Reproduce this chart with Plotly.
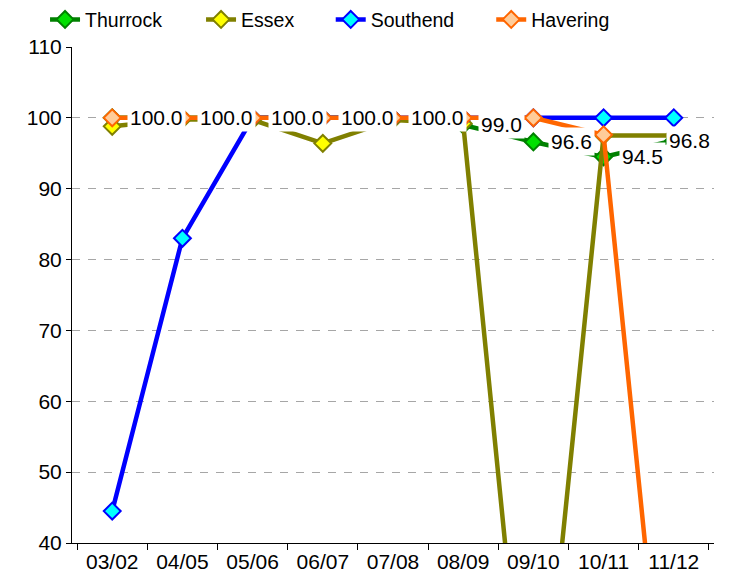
import plotly.graph_objects as go

categories = ["03/02", "04/05", "05/06", "06/07", "07/08", "08/09", "09/10", "10/11", "11/12"]
thurrock = [100.0, 100.0, 100.0, 100.0, 100.0, 99.0, 96.6, 94.5, 96.8]
essex = [98.8, 99.8, 99.7, 96.4, 99.7, 99.2, 0.0, 97.5, 97.5]
southend = [44.5, 83.0, 100.0, 100.0, 100.0, 100.0, 100.0, 100.0, 100.0]
havering = [100.0, 100.0, 100.0, 100.0, 100.0, 100.0, 100.0, 97.6, 0.0]
y_ticks = [40, 50, 60, 70, 80, 90, 100, 110]

FONT = "Liberation Sans, Arial, sans-serif"
FS = 21

series = [
    ("Thurrock", thurrock, "#008000", "#00E000"),
    ("Essex", essex, "#808000", "#FFFF00"),
    ("Southend", southend, "#0000FF", "#00FFFF"),
    ("Havering", havering, "#FF6600", "#FFCC99"),
]
legend_ids = ["legend", "legend2", "legend3", "legend4"]
legend_x = [-0.042, 0.201, 0.403, 0.653]

fig = go.Figure()
for (name, vals, lc, fc), lid in zip(series, legend_ids):
    fig.add_trace(go.Scatter(
        x=categories, y=vals, name=name, mode="lines+markers",
        line=dict(color=lc, width=4.5),
        marker=dict(symbol="diamond", size=13, color=fc, line=dict(color=lc, width=2)),
        cliponaxis=True, legend=lid,
    ))

annotations = []
for i, (c, v) in enumerate(zip(categories, thurrock)):
    shift = 15 if i < len(categories) - 1 else -8
    annotations.append(dict(
        x=c, y=v, xref="x", yref="y", text=f"{v:.1f}", showarrow=False,
        xanchor="left", yanchor="middle", xshift=shift,
        bgcolor="white", borderpad=2,
        font=dict(family=FONT, size=FS, color="black"),
    ))

legend_layout = {}
for lid, lx in zip(legend_ids, legend_x):
    legend_layout[lid] = dict(
        orientation="h", xref="paper", yref="paper",
        x=lx, y=1.055, xanchor="left", yanchor="middle",
        font=dict(family=FONT, size=19.5, color="black"),
        bgcolor="rgba(0,0,0,0)", itemclick=False, itemdoubleclick=False,
    )

fig.update_layout(
    width=723, height=578,
    margin=dict(l=64, r=17, t=39, b=43, autoexpand=False),
    paper_bgcolor="white", plot_bgcolor="white",
    font=dict(family=FONT, size=FS, color="black"),
    showlegend=True,
    annotations=annotations,
    **legend_layout,
)
fig.update_xaxes(
    type="category", showline=True, linecolor="black", linewidth=1,
    ticks="outside", tickson="boundaries", ticklen=6, tickcolor="black",
    showgrid=False, zeroline=False, automargin=False,
    tickfont=dict(family=FONT, size=FS, color="black"),
)
fig.update_yaxes(
    range=[40, 110], tickvals=y_ticks, showline=True, linecolor="black", linewidth=1,
    ticks="outside", ticklen=5, tickcolor="black",
    showgrid=True, gridcolor="#A6A6A6", gridwidth=1, griddash="8px,8px",
    zeroline=False, automargin=False,
    tickfont=dict(family=FONT, size=FS, color="black"),
)

fig.write_html("out.html")
